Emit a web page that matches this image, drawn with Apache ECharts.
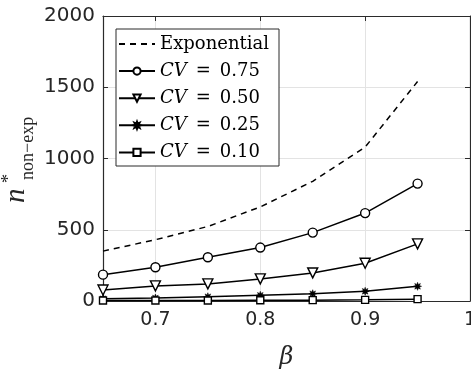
<!DOCTYPE html>
<html>
<head>
<meta charset="utf-8">
<script src="https://cdn.jsdelivr.net/npm/echarts@6/dist/echarts.min.js"></script>
<style>
  html, body { margin: 0; padding: 0; background: #fff; }
  #chart { width: 471px; height: 373px; }
</style>
</head>
<body>
<div id="chart"></div>
<script>
// beta values on the horizontal axis
const beta = [0.65, 0.70, 0.75, 0.80, 0.85, 0.90, 0.95];
// n* for the exponential case and for each coefficient of variation
const expo  = [350, 430, 523, 660, 840, 1080, 1540];
const cv075 = [185, 237, 307, 375, 480, 617, 824];
const cv050 = [77, 106, 120, 155, 197, 265, 401];
const cv025 = [16, 21, 30, 40, 51, 68, 103];
const cv010 = [3, 4, 4, 5, 6, 8, 13];
const xTicks = [0.7, 0.8, 0.9, 1];
const seriesNames = ['Exponential', 'CV = 0.75', 'CV = 0.50', 'CV = 0.25', 'CV = 0.10'];

const pair = ys => beta.map((b, i) => [b, ys[i]]);

// eight-armed asterisk marker
function asteriskPath() {
  let d = '';
  const n = 16;
  for (let k = 0; k < n; k++) {
    const a = Math.PI * 2 * k / n - Math.PI / 2;
    const r = k % 2 === 0 ? 10 : 5;
    d += (k === 0 ? 'M' : 'L') + (10 + r * Math.cos(a)).toFixed(2) + ' ' + (10 + r * Math.sin(a)).toFixed(2) + ' ';
  }
  return 'path://' + d + 'Z';
}

const axisColor = '#2b2b2b';
const gridColor = '#e3e3e3';
const tickFont = 'DejaVu Sans';

const markerSeries = (name, ys, symbol, size, extra) => Object.assign({
  name, type: 'line', data: pair(ys), symbol, symbolSize: size,
  lineStyle: { color: '#000', width: 1.5 },
  itemStyle: { color: '#fff', borderColor: '#000', borderWidth: 1.4 },
  emphasis: { disabled: true }, z: 3
}, extra || {});

const chart = echarts.init(document.getElementById('chart'), null, { renderer: 'canvas' });
chart.setOption({
  animation: false,
  backgroundColor: '#fff',
  grid: { left: 103, right: 1, top: 16, bottom: 72, containLabel: false, outerBoundsMode: 'none' },
  xAxis: [{
    type: 'value', min: 0.65, max: 1, position: 'bottom',
    name: 'β', nameLocation: 'middle', nameGap: 45,
    nameTextStyle: { fontFamily: 'DejaVu Serif', fontStyle: 'italic', fontSize: 24, color: '#262626' },
    axisLine: { show: true, onZero: false, lineStyle: { color: axisColor, width: 1.2 } },
    axisTick: { show: true, inside: true, length: 5, customValues: xTicks, lineStyle: { color: axisColor } },
    axisLabel: { customValues: xTicks, margin: 10, fontFamily: tickFont, fontSize: 19, color: '#262626',
      formatter: v => String(+v.toFixed(2)) },
    splitLine: { show: true, lineStyle: { color: gridColor, width: 1 } }
  }, {
    type: 'value', min: 0.65, max: 1, position: 'top',
    axisLine: { show: true, onZero: false, lineStyle: { color: axisColor, width: 1.2 } },
    axisTick: { show: true, inside: true, length: 5, customValues: xTicks, lineStyle: { color: axisColor } },
    axisLabel: { show: false },
    splitLine: { show: false }
  }],
  yAxis: [{
    type: 'value', min: 0, max: 2000, interval: 500, position: 'left',
    axisLine: { show: true, onZero: false, lineStyle: { color: axisColor, width: 1.2 } },
    axisTick: { show: true, inside: true, length: 5, lineStyle: { color: axisColor } },
    axisLabel: { margin: 8, fontFamily: tickFont, fontSize: 20, color: '#262626', formatter: v => String(v) },
    splitLine: { show: true, lineStyle: { color: gridColor, width: 1 } }
  }, {
    type: 'value', min: 0, max: 2000, interval: 500, position: 'right',
    axisLine: { show: true, onZero: false, lineStyle: { color: axisColor, width: 1.2 } },
    axisTick: { show: true, inside: true, length: 5, lineStyle: { color: axisColor } },
    axisLabel: { show: false },
    splitLine: { show: false }
  }],
  legend: {
    data: seriesNames,
    orient: 'vertical',
    left: 116, top: 35,
    padding: [0, 0, 0, 2],
    itemWidth: 36, itemHeight: 9, itemGap: 9.1,
    z: 10,
    textStyle: {
      fontFamily: 'DejaVu Serif', fontSize: 18, color: '#000', lineHeight: 14,
      rich: { i: { fontFamily: 'DejaVu Serif', fontStyle: 'italic', fontSize: 18, lineHeight: 14 } }
    },
    formatter: name => name.startsWith('CV') ? '{i|CV}\u2002=\u2002' + name.slice(5) : name
  },
  graphic: [
    // legend frame
    { type: 'rect', z: 5, shape: { x: 116, y: 29, width: 163, height: 137 },
      style: { fill: '#fff', stroke: '#2b2b2b', lineWidth: 1 } },
    // y-axis title n*_{non-exp}
    { type: 'group', x: 16, y: 203, rotation: Math.PI / 2, z: 10, children: [
      { type: 'text', x: 0, y: 0, style: { text: 'n', font: 'italic 29px "Liberation Serif"', fill: '#262626', align: 'left', verticalAlign: 'middle' } },
      { type: 'text', x: 20, y: -7, style: { text: '*', font: '18px "Liberation Serif"', fill: '#262626', align: 'left', verticalAlign: 'middle' } },
      { type: 'text', x: 23, y: 12, style: { text: 'non−exp', font: '18px "Liberation Serif"', fill: '#262626', align: 'left', verticalAlign: 'middle' } }
    ]}
  ],
  series: [
    { name: 'Exponential', type: 'line', data: pair(expo), symbol: 'none',
      lineStyle: { color: '#000', width: 1.5, type: [6, 5] },
      itemStyle: { color: 'rgba(0,0,0,0)', borderWidth: 0 },
      emphasis: { disabled: true }, z: 3 },
    markerSeries('CV = 0.75', cv075, 'circle', 9),
    markerSeries('CV = 0.50', cv050, 'triangle', 10, { symbolRotate: 180 }),
    markerSeries('CV = 0.25', cv025, asteriskPath(), 8, { itemStyle: { color: '#000', borderColor: '#000', borderWidth: 0.5 } }),
    markerSeries('CV = 0.10', cv010, 'rect', 7)
  ]
});
</script>
</body>
</html>
